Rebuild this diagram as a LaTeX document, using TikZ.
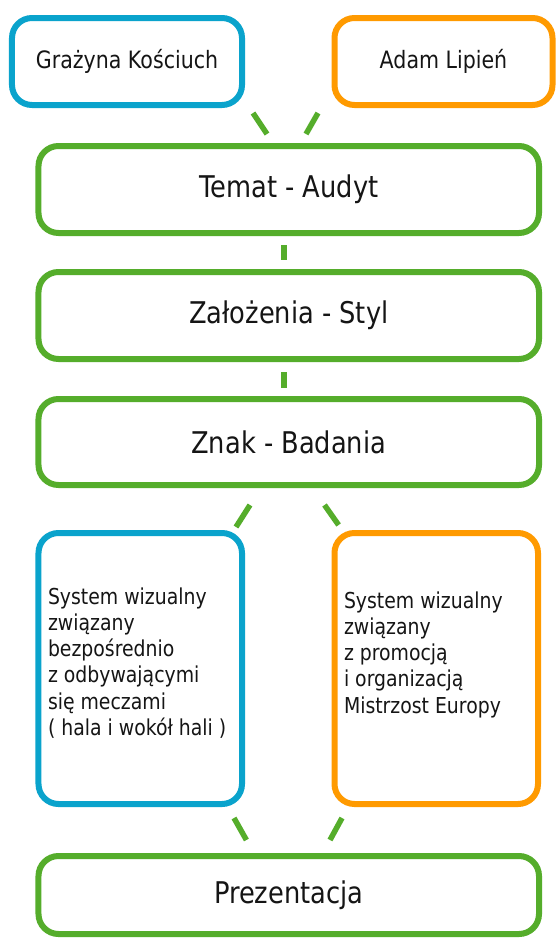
\documentclass[tikz,border=0pt]{standalone}
\usepackage{fontspec}
\setmainfont{DejaVu Sans}[FakeStretch=0.86]
\usetikzlibrary{calc}
\definecolor{cblue}{HTML}{0AA3CC}
\definecolor{corange}{HTML}{FF9A00}
\definecolor{cgreen}{HTML}{55AD2B}
\definecolor{ctext}{HTML}{151515}
\begin{document}
\begin{tikzpicture}[x=1bp,y=-1bp,
  box/.style={draw, line width=6bp, rounded corners=20bp, inner sep=0pt, outer sep=0pt, text=ctext},
  bluebox/.style={box, draw=cblue},
  orangebox/.style={box, draw=corange},
  greenbox/.style={box, draw=cgreen, minimum width=500.5bp, font=\fontsize{30}{36}\selectfont},
  namefont/.style={font=\fontsize{24}{29}\selectfont},
  bodytext/.style={anchor=north west, inner sep=0pt, outer sep=0pt, align=left, text=ctext, font=\fontsize{22}{26.3}\selectfont},
  conn/.style={draw=cgreen, line width=5.5bp, line cap=butt}]
\fill[white] (0,0) rectangle (556,939);
\useasboundingbox (0,0) rectangle (556,939);

\node[bluebox, namefont, minimum width=230bp, minimum height=87bp] (g) at (127,61.5) {Grażyna Kościuch};
\node[orangebox, namefont, minimum width=218bp, minimum height=87bp] (a) at (443.5,61.5) {Adam Lipień};

\node[greenbox, minimum height=87bp] (t) at (288.75,189.5) {Temat - Audyt};
\node[greenbox, minimum height=87bp] (z) at (288.75,315.5) {Założenia - Styl};
\node[greenbox, minimum height=86bp] (k) at (288.75,442) {Znak - Badania};

\node[bluebox, minimum width=203.5bp, minimum height=271bp] (lb) at (140.25,668.5) {};
\node[orangebox, minimum width=203.5bp, minimum height=271bp] (lo) at (436.25,668.5) {};
\node[bodytext] (lbt) at (48,587.6) {System wizualny\\związany\\bezpośrednio\\z odbywającymi\\się meczami\\( hala i wokół hali )};
\node[bodytext] (lot) at (344,591.6) {System wizualny\\związany\\z promocją\\i organizacją\\Mistrzost Europy};

\node[greenbox, minimum height=78bp] (p) at (288.75,895) {Prezentacja};

\draw[conn] ($(g.south east)+(11,8)$) -- ($(t.north)+(-21.75,-12)$);
\draw[conn] ($(a.south west)+(-16.5,8)$) -- ($(t.north)+(17.25,-12)$);
\draw[conn] ($(t.south)+(-4.75,12)$) -- ($(z.north)+(-4.75,-12)$);
\draw[conn] ($(z.south)+(-4.75,13)$) -- ($(k.north)+(-4.75,-11)$);
\draw[conn] ($(k.south)+(-38.75,20)$) -- ($(lb.north east)+(-6,-6)$);
\draw[conn] ($(k.south)+(35.75,20)$) -- ($(lo.north west)+(4.1,-8)$);
\draw[conn] ($(lb.south east)+(-8,14)$) -- ($(p.north)+(-42.35,-16)$);
\draw[conn] ($(lo.south west)+(7.5,14)$) -- ($(p.north)+(41.25,-16)$);
\end{tikzpicture}
\end{document}
